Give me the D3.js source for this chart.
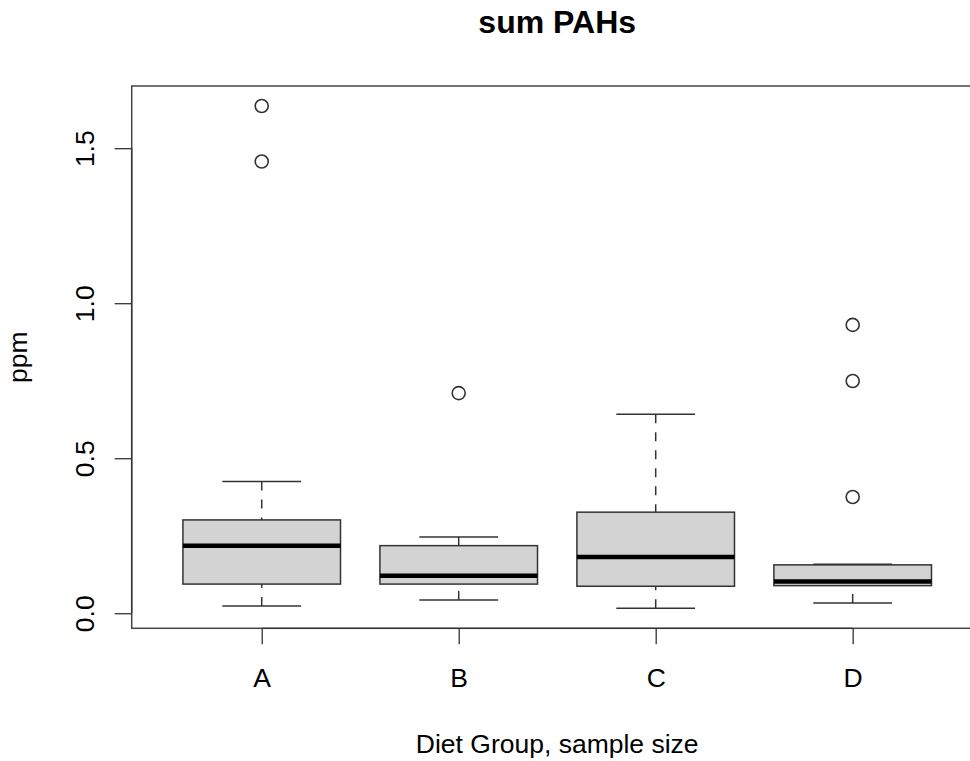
<!DOCTYPE html>
<html>
<head>
<meta charset="utf-8">
<script src="https://cdn.jsdelivr.net/npm/d3@7"></script>
<style>
  body { margin: 0; background: #fff; }
  svg text { font-family: "Liberation Sans", Arial, Helvetica, sans-serif; fill: #000; }
</style>
</head>
<body>
<script>

// box statistics per diet group (ppm)
var groups = ["A", "B", "C", "D"];
var lowerWhisker = [0.023, 0.043, 0.016, 0.033];
var q1 = [0.094, 0.094, 0.087, 0.089];
var median = [0.218, 0.121, 0.181, 0.102];
var q3 = [0.301, 0.218, 0.326, 0.156];
var upperWhisker = [0.425, 0.246, 0.642, 0.158];
var outliers = [[1.636, 1.457], [0.710], [], [0.930, 0.749, 0.375]];
var yTicks = [0, 0.5, 1.0, 1.5];

var W = 970, H = 761;
// plot region (note: "top" is taken by window.top)
var plotL = 131.7, plotR = 982.7, plotT = 86, plotB = 628.3;

var svg = d3.select("body")
    .append("svg")
        .attr("width", W)
        .attr("height", H);

svg.append("rect")
    .attr("width", W)
    .attr("height", H)
    .attr("fill", "#fff");

// R style: xlim 0.5..4.5 widened by 4%
var x = d3.scaleLinear()
    .domain([0.34, 4.66])
    .range([plotL, plotR]);

var y = d3.scaleLinear()
    .domain([-0.0486, 1.7006])
    .range([plotB, plotT]);

var boxHalf = 0.4, capHalf = 0.2;

var boxes = groups.map(function (g, i) {
    return {
        name: g,
        pos: i + 1,
        lo: lowerWhisker[i],
        q1: q1[i],
        med: median[i],
        q3: q3[i],
        hi: upperWhisker[i],
        out: outliers[i]
    };
});

var g = svg.selectAll("g.box")
    .data(boxes)
    .enter()
    .append("g")
        .attr("class", "box");

// whiskers, dashed, drawn from the cap to the box
g.append("line")
    .attr("x1", function (d) { return x(d.pos); })
    .attr("x2", function (d) { return x(d.pos); })
    .attr("y1", function (d) { return y(d.hi); })
    .attr("y2", function (d) { return y(d.q3); })
    .attr("stroke", "#333")
    .attr("stroke-width", 1.5)
    .attr("stroke-dasharray", "9,9");

g.append("line")
    .attr("x1", function (d) { return x(d.pos); })
    .attr("x2", function (d) { return x(d.pos); })
    .attr("y1", function (d) { return y(d.lo); })
    .attr("y2", function (d) { return y(d.q1); })
    .attr("stroke", "#333")
    .attr("stroke-width", 1.5)
    .attr("stroke-dasharray", "9,9");

// caps
["lo", "hi"].forEach(function (k) {
    g.append("line")
        .attr("x1", function (d) { return x(d.pos - capHalf); })
        .attr("x2", function (d) { return x(d.pos + capHalf); })
        .attr("y1", function (d) { return y(d[k]); })
        .attr("y2", function (d) { return y(d[k]); })
        .attr("stroke", "#333")
        .attr("stroke-width", 1.5);
});

// the box
g.append("rect")
    .attr("x", function (d) { return x(d.pos - boxHalf); })
    .attr("width", function (d) { return x(d.pos + boxHalf) - x(d.pos - boxHalf); })
    .attr("y", function (d) { return y(d.q3); })
    .attr("height", function (d) { return y(d.q1) - y(d.q3); })
    .attr("fill", "#d3d3d3")
    .attr("stroke", "#333")
    .attr("stroke-width", 1.5);

// median
g.append("line")
    .attr("x1", function (d) { return x(d.pos - boxHalf); })
    .attr("x2", function (d) { return x(d.pos + boxHalf); })
    .attr("y1", function (d) { return y(d.med); })
    .attr("y2", function (d) { return y(d.med); })
    .attr("stroke", "#000")
    .attr("stroke-width", 4.5);

// outliers
g.selectAll("circle")
    .data(function (d) { return d.out.map(function (v) { return { pos: d.pos, v: v }; }); })
    .enter()
    .append("circle")
        .attr("cx", function (d) { return x(d.pos); })
        .attr("cy", function (d) { return y(d.v); })
        .attr("r", 6.5)
        .attr("fill", "none")
        .attr("stroke", "#333")
        .attr("stroke-width", 1.6);

// plot frame
svg.append("rect")
    .attr("x", plotL)
    .attr("y", plotT)
    .attr("width", plotR - plotL)
    .attr("height", plotB - plotT)
    .attr("fill", "none")
    .attr("stroke", "#444")
    .attr("stroke-width", 1.5);

// y axis
var yAxis = svg.append("g")
    .attr("transform", "translate(" + plotL + ",0)")
    .call(d3.axisLeft(y)
        .tickValues(yTicks)
        .tickSize(17)
        .tickFormat(d3.format(".1f")));

yAxis.select(".domain").remove();
yAxis.selectAll(".tick line").attr("stroke", "#333").attr("stroke-width", 1.3);
yAxis.selectAll(".tick text")
    .attr("x", null)
    .attr("dy", null)
    .attr("text-anchor", "middle")
    .attr("transform", "translate(-38,0) rotate(-90)")
    .style("font-size", "26.5px");

yAxis.append("line")
    .attr("x1", 0).attr("x2", 0)
    .attr("y1", y(yTicks[0]))
    .attr("y2", y(yTicks[yTicks.length - 1]))
    .attr("stroke", "#333")
    .attr("stroke-width", 1.3);

// x axis
var xAxis = svg.append("g")
    .attr("transform", "translate(0," + plotB + ")")
    .call(d3.axisBottom(x)
        .tickValues([1, 2, 3, 4])
        .tickSize(16)
        .tickFormat(function (d) { return groups[d - 1]; }));

xAxis.select(".domain").remove();
xAxis.selectAll(".tick line").attr("stroke", "#333").attr("stroke-width", 1.3);
xAxis.selectAll(".tick text")
    .attr("y", 58.7)
    .attr("dy", null)
    .style("font-size", "26.5px");

xAxis.append("line")
    .attr("x1", x(1)).attr("x2", x(4))
    .attr("y1", 0).attr("y2", 0)
    .attr("stroke", "#333")
    .attr("stroke-width", 1.3);

// titles
var cx = (plotL + plotR) / 2;

svg.append("text")
    .attr("x", cx)
    .attr("y", 33)
    .attr("text-anchor", "middle")
    .style("font-size", "32px")
    .style("font-weight", "bold")
    .text("sum PAHs");

svg.append("text")
    .attr("x", cx)
    .attr("y", 753)
    .attr("text-anchor", "middle")
    .style("font-size", "26.5px")
    .text("Diet Group, sample size");

svg.append("text")
    .attr("transform", "translate(27," + ((plotT + plotB) / 2) + ") rotate(-90)")
    .attr("text-anchor", "middle")
    .style("font-size", "26.5px")
    .text("ppm");

</script>
</body>
</html>
